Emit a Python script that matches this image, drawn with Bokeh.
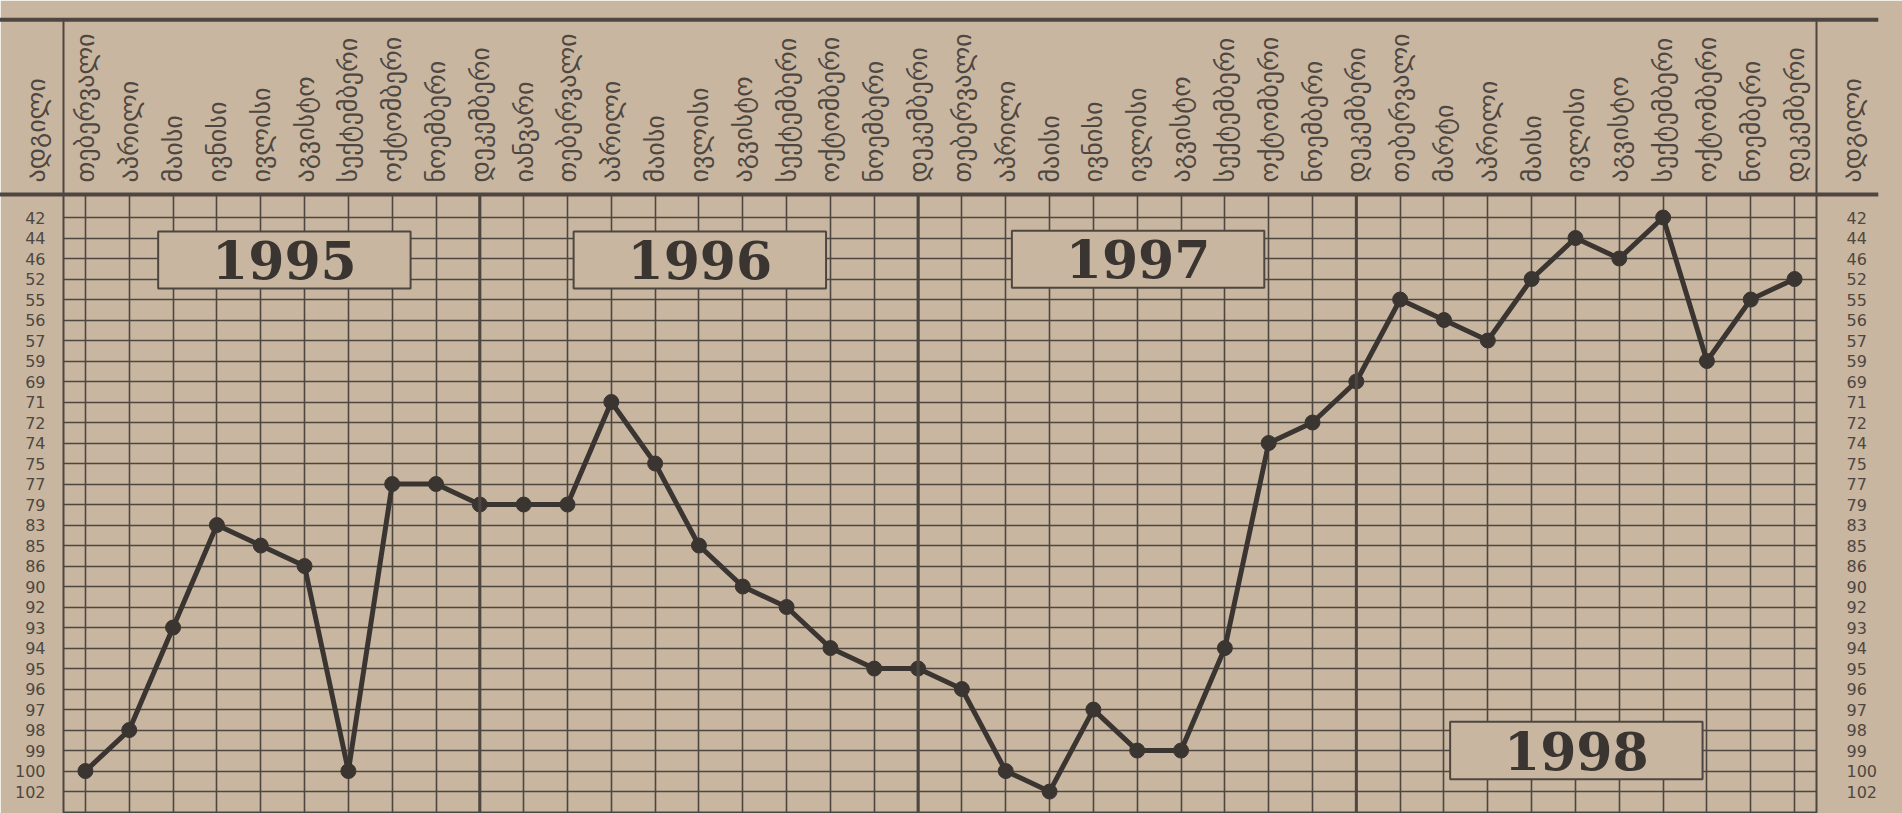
from math import pi
from bokeh.plotting import figure
from bokeh.models import (FixedTicker, LinearAxis, BoxAnnotation, Label, Range1d,
                          ColumnDataSource, Span)
from bokeh.core.properties import value
from bokeh.embed import file_html
from bokeh.resources import INLINE

# ---------------- data ----------------
RANKS = [42, 44, 46, 52, 55, 56, 57, 59, 69, 71, 72, 74, 75, 77, 79, 83, 85, 86,
         90, 92, 93, 94, 95, 96, 97, 98, 99, 100, 102]

MONTHS = [
    # 1995
    "თებერვალი", "აპრილი", "მაისი", "ივნისი", "ივლისი", "აგვისტო",
    "სექტემბერი", "ოქტომბერი", "ნოემბერი", "დეკემბერი",
    # 1996
    "იანვარი", "თებერვალი", "აპრილი", "მაისი", "ივლისი", "აგვისტო",
    "სექტემბერი", "ოქტომბერი", "ნოემბერი", "დეკემბერი",
    # 1997
    "თებერვალი", "აპრილი", "მაისი", "ივნისი", "ივლისი", "აგვისტო",
    "სექტემბერი", "ოქტომბერი", "ნოემბერი", "დეკემბერი",
    # 1998
    "თებერვალი", "მარტი", "აპრილი", "მაისი", "ივლისი", "აგვისტო",
    "სექტემბერი", "ოქტომბერი", "ნოემბერი", "დეკემბერი",
]

POSITION = [100, 98, 93, 83, 85, 86, 100, 77, 77, 79,
            79, 79, 71, 75, 85, 90, 92, 94, 95, 95,
            96, 100, 102, 97, 99, 99, 94, 74, 72, 69,
            55, 56, 57, 52, 44, 46, 42, 59, 55, 52]

YEARS = ["1995", "1996", "1997", "1998"]
HEADER = "ადგილი"

# ---------------- style ----------------
PAPER = "#c8b6a0"
INK = "#4e4741"
DARK = "#3a3531"
FONT = "DejaVu Sans"

x = list(range(len(MONTHS)))
y = [RANKS.index(v) for v in POSITION]
src = ColumnDataSource(dict(x=x, y=y, rank=POSITION, month=MONTHS))

p = figure(width=1902, height=813, output_backend="svg", toolbar_location=None,
           x_range=Range1d(-0.5, len(MONTHS) - 0.5),
           y_range=Range1d(29.07, -1.122),
           x_axis_location="above",
           min_border_left=63, min_border_right=86,
           min_border_top=194, min_border_bottom=0)

p.background_fill_color = PAPER
p.border_fill_color = PAPER
p.outline_line_color = INK
p.outline_line_width = 2

# grid
p.xgrid.ticker = FixedTicker(ticks=x)
p.ygrid.ticker = FixedTicker(ticks=list(range(len(RANKS))))
for g in (p.xgrid, p.ygrid):
    g.grid_line_color = INK
    g.grid_line_width = 1.6
    g.grid_line_alpha = 1

# year separators
for loc in (9, 19, 29):
    p.add_layout(Span(location=loc, dimension="height", line_color=INK, line_width=3))

# axes
rank_labels = {i: str(r) for i, r in enumerate(RANKS)}
month_labels = {i: m for i, m in enumerate(MONTHS)}

xa = p.xaxis[0]
xa.ticker = FixedTicker(ticks=x)
xa.major_label_overrides = month_labels
xa.major_label_orientation = pi / 2
xa.major_label_standoff = 6
xa.major_label_text_font = FONT
xa.major_label_text_font_size = "26px"
xa.major_label_text_color = INK

ya = p.yaxis[0]
ra = LinearAxis()
p.add_layout(ra, "right")
for ax, so in ((ya, 12), (ra, 24)):
    ax.ticker = FixedTicker(ticks=list(range(len(RANKS))))
    ax.major_label_overrides = rank_labels
    ax.major_label_standoff = so
    ax.major_label_text_font = FONT
    ax.major_label_text_font_size = "16px"
    ax.major_label_text_color = INK

for ax in (xa, ya, ra):
    ax.axis_line_color = None
    ax.major_tick_line_color = None
    ax.minor_tick_line_color = None

# header rules (outside the frame, drawn at overlay level)
XL, XR = -1.95, 40.91
YT, YH = -9.64, -1.122
p.segment(x0=[XL, XL], y0=[YT, YH], x1=[XR, XR], y1=[YT, YH],
          line_color=INK, line_width=4, level="overlay")
p.segment(x0=[-0.5, 39.5], y0=[YT, YT], x1=[-0.5, 39.5], y1=[YH, YH],
          line_color=INK, line_width=2, level="overlay")
p.text(x=[-1.12, 40.3], y=[-1.71, -1.71], text=[HEADER, HEADER], angle=pi / 2,
       text_align="left", text_baseline="middle", text_font=value(FONT),
       text_font_size="26px", text_color=INK, level="overlay")

# year boxes
BOXES = [(1.66, 7.42, 0.68, 3.46), (11.14, 16.9, 0.68, 3.46),
         (21.14, 26.9, 0.65, 3.43), (31.14, 36.9, 24.6, 27.4)]
for yr, (l, r, t, b) in zip(YEARS, BOXES):
    p.add_layout(BoxAnnotation(left=l, right=r, top=t, bottom=b,
                               fill_color=PAPER, fill_alpha=1,
                               line_color=INK, line_width=2, line_alpha=1))
    p.add_layout(Label(x=(l + r) / 2, y=(t + b) / 2, text=yr,
                       text_align="center", text_baseline="middle",
                       text_font="DejaVu Serif", text_font_style="bold",
                       text_font_size="52px", text_color=DARK))

# data
p.line("x", "y", source=src, line_color=DARK, line_width=5)
p.scatter("x", "y", source=src, size=15, fill_color=DARK, line_color=DARK)

open("out.html", "w").write(file_html(p, INLINE))
